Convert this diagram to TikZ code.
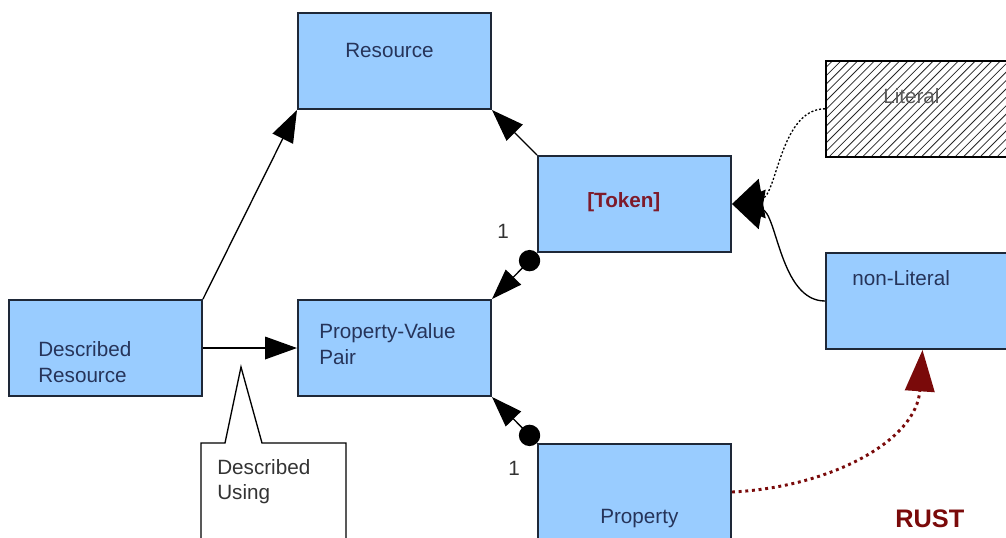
\documentclass[tikz,border=0pt]{standalone}
\usepackage{fontspec}
\setmainfont{Liberation Sans}
\usetikzlibrary{arrows.meta}
\definecolor{boxfill}{HTML}{99CCFF}
\definecolor{boxline}{HTML}{1E2838}
\definecolor{labelink}{HTML}{26345A}
\definecolor{rust}{HTML}{7A0A0A}
\definecolor{tokenred}{HTML}{7E1A2A}
\begin{document}
\begin{tikzpicture}[x=0.75pt,y=-0.75pt,
  box/.style={draw=boxline, line width=1.5pt, fill=boxfill, inner sep=0pt,
    minimum width=144.75pt, minimum height=72pt, anchor=north west},
  txt/.style={font=\fontsize{15.5}{19.5}\selectfont, text=labelink,
    anchor=base west, inner sep=0pt},
  conn/.style={line width=1pt, draw=black},
  tri/.style={-{Triangle[length=24pt,width=17pt]}},
  bigtri/.style={-{Triangle[length=23pt,width=30pt]}},
  dotline/.style={dash pattern=on 1.5pt off 1.5pt},
  ballarrow/.style={{Circle[length=16pt]}-{Triangle[length=23pt,width=16pt]}}]

\clip (0,0) rectangle (1006,537);
\fill[white] (0,0) rectangle (1006,537);

% class boxes
\node[box] (res)    at (297,12)  {};
\node[box] (tok)    at (537,155) {};
\node[box] (dr)     at (8,299)   {};
\node[box] (pvp)    at (297,299) {};
\node[box] (prop)   at (537,443) {};
\node[box] (nonlit) at (825,252) {};

% hatched literal box
\begin{scope}
  \clip (825,60) rectangle (1019,156);
  \foreach \k in {0,...,40}
    \draw[line width=0.6pt, black!85] (729+\k*8.4,156) -- ++(96,-96);
\end{scope}
\node[draw=black, line width=1.2pt, inner sep=0pt,
  minimum width=144.75pt, minimum height=72pt, anchor=north west] (lit) at (825,60) {};

% labels
\node[txt] (resT)  at (345,57)  {Resource};
\node[txt, font=\fontsize{15.5}{19.5}\selectfont\bfseries, text=tokenred] (tokT) at (587,207) {[Token]};
\node[txt] (drT1)  at (38,356)  {Described};
\node[txt] (drT2)  at (38,382)  {Resource};
\node[txt] (pvpT1) at (319,338) {Property-Value};
\node[txt] (pvpT2) at (319,364) {Pair};
\node[txt, text=black!65] (litT) at (883,103) {Literal};
\node[txt] (nonlitT) at (852,285) {non-Literal};
\node[txt] (propT) at (600,523) {Property};
\node[txt, text=black!80] (one1) at (497,238) {1};
\node[txt, text=black!80] (one2) at (508,475) {1};
\node[txt, font=\fontsize{19}{22}\selectfont\bfseries, text=rust] (rustT) at (895,527) {RUST};

% note attached to the association
\draw[line width=1pt, fill=white]
  (201,560) -- (201,443) -- (225,443) -- (241,367) -- (262,443) -- (346,443) -- (346,560);
\node[txt, text=black!80] (noteT1) at (217,474) {Described};
\node[txt, text=black!80] (noteT2) at (217,499) {Using};

% connectors
\draw[conn, tri] (dr.north east) -- (res.south west);
\draw[conn, tri] (tok.north west) -- (res.south east);
\draw[conn, tri] (dr.east) -- (pvp.west);
\draw[conn, ballarrow] (tok.south west) -- (pvp.north east);
\draw[conn, ballarrow] (prop.north west) -- (pvp.south east);
\draw[conn, dotline, bigtri] (lit.west) .. controls +(-45,0) and +(45,-8) .. (tok.east);
\draw[conn, bigtri] (nonlit.west) .. controls +(-45,0) and +(45,8) .. (tok.east);
\draw[draw=rust, line width=2.2pt, dash pattern=on 2.2pt off 2.8pt,
  -{Triangle[length=31pt,width=22pt]}]
  (prop.east) .. controls +(100,-5) and +(-6,90) .. (nonlit.south);
\end{tikzpicture}
\end{document}
